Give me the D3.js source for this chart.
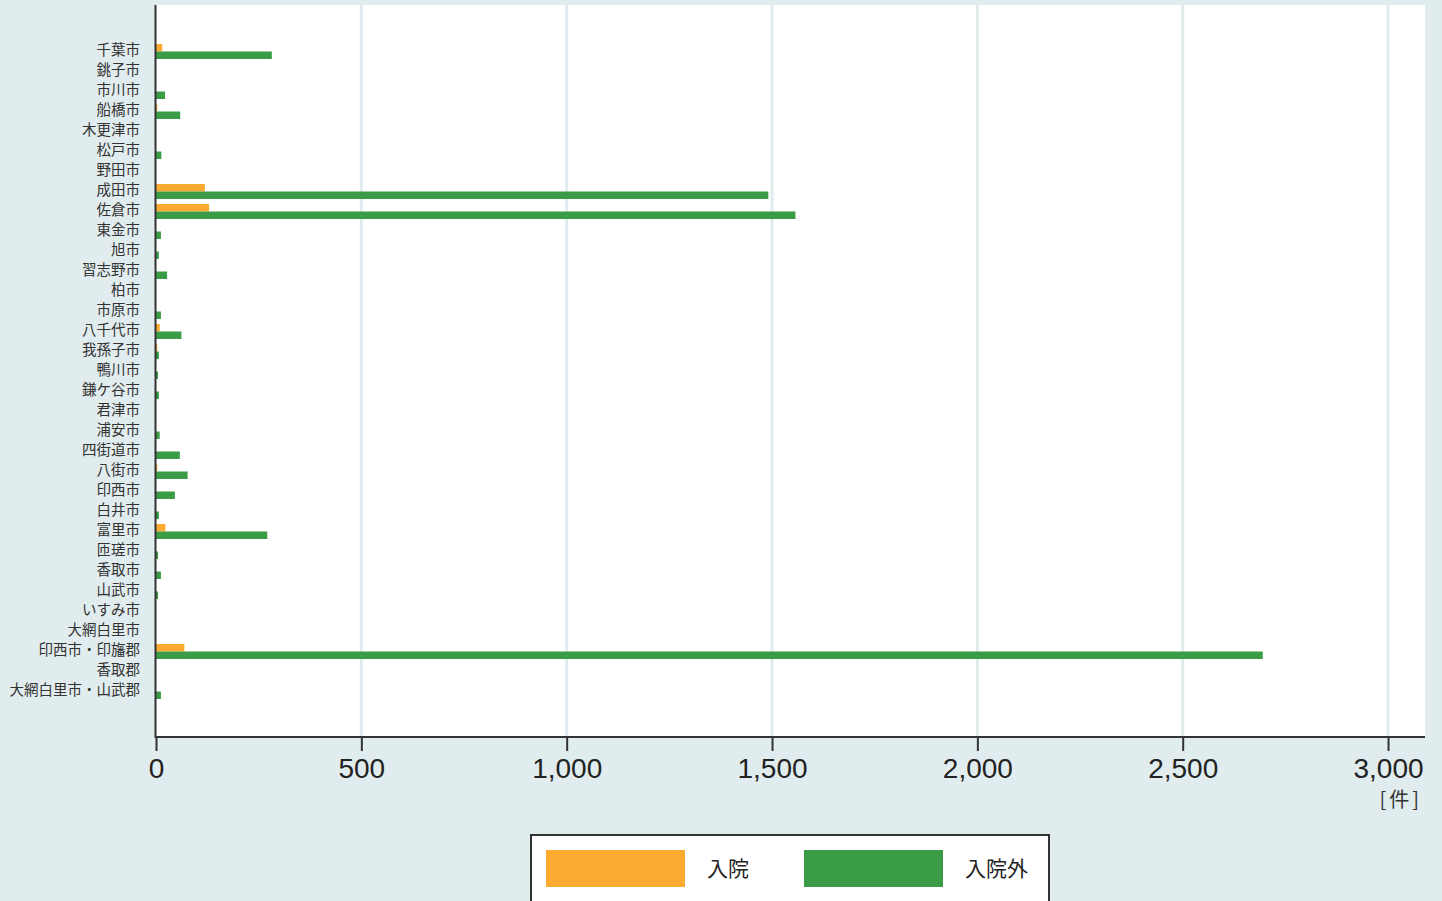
<!DOCTYPE html>
<html><head><meta charset="utf-8">
<script src="https://cdn.jsdelivr.net/npm/d3@7"></script>
<style>
html,body{margin:0;padding:0;background:#e1ecee;}
svg{display:block;}
</style></head>
<body>
<script>
const categories = ["千葉市","銚子市","市川市","船橋市","木更津市","松戸市","野田市","成田市","佐倉市","東金市","旭市","習志野市","柏市","市原市","八千代市","我孫子市","鴨川市","鎌ケ谷市","君津市","浦安市","四街道市","八街市","印西市","白井市","富里市","匝瑳市","香取市","山武市","いすみ市","大網白里市","印西市・印旛郡","香取郡","大網白里市・山武郡"];
const inpatient = [15,0,0,3,0,0,0,119,129,0,0,0,0,0,9,3,0,0,0,0,0,3,0,0,23,0,0,0,0,0,69,0,0];
const outpatient = [282,0,22,59,0,13,0,1491,1557,12,7,27,0,12,62,7,5,7,0,9,58,77,46,7,271,5,12,5,0,0,2695,0,12];
const seriesNames = ["入院","入院外"];
const seriesColors = ["#fbab2f","#3a9c47"];
const xTicks = [0,500,1000,1500,2000,2500,3000];
const unitLabel = "[件]";

const W = 1442, H = 901;
const plot = {left:156, right:1425, top:5, bottom:737};
const svg = d3.select("body").append("svg").attr("width",W).attr("height",H);
svg.append("rect").attr("width",W).attr("height",H).attr("fill","#e1ecee");
svg.append("rect").attr("x",plot.left).attr("y",plot.top).attr("width",plot.right-plot.left).attr("height",plot.bottom-plot.top).attr("fill","#ffffff");

const x = d3.scaleLinear().domain([0,3090]).range([plot.left, plot.right]);
const y = d3.scaleBand().domain(categories).range([41.5,701.5]).paddingInner(0.25).paddingOuter(0.125);
const ySub = d3.scaleBand().domain(seriesNames).range([0,y.bandwidth()]);

// gridlines
svg.append("g").selectAll("line").data(xTicks.filter(d=>d>0)).join("line")
  .attr("x1",d=>x(d)).attr("x2",d=>x(d)).attr("y1",plot.top).attr("y2",plot.bottom)
  .attr("stroke","#e0ebed").attr("stroke-width",3);

const data = categories.map((c,i)=>({cat:c, vals:[inpatient[i], outpatient[i]]}));
const g = svg.append("g");
data.forEach(d=>{
  d.vals.forEach((v,si)=>{
    if(v<=0) return;
    g.append("rect")
      .attr("x",x(0)).attr("y",y(d.cat)+ySub(seriesNames[si]))
      .attr("width",x(v)-x(0)).attr("height",ySub.bandwidth())
      .attr("fill",seriesColors[si]);
  });
});

// category labels
svg.append("g").selectAll("text").data(categories).join("text")
  .attr("x",140).attr("y",d=>y(d)+y.bandwidth()/2 - 1.5).attr("dy","0.36em")
  .attr("text-anchor","end").attr("font-family","'Noto Sans CJK JP', sans-serif")
  .attr("font-size",14.5).attr("fill","#333").text(d=>d);

// left axis line
svg.append("line").attr("x1",155.5).attr("x2",155.5).attr("y1",plot.top).attr("y2",plot.bottom+1)
  .attr("stroke","#333").attr("stroke-width",2);

// bottom axis
const xAxis = d3.axisBottom(x).tickValues(xTicks).tickSize(14).tickPadding(7).tickFormat(d3.format(","));
const ax = svg.append("g").attr("transform",`translate(0,${plot.bottom})`).call(xAxis);
ax.select(".domain").attr("stroke","#333").attr("stroke-width",2).attr("d",`M${plot.left-1},0H${plot.right}`);
ax.selectAll(".tick line").attr("stroke","#333").attr("stroke-width",2);
ax.selectAll(".tick text").attr("font-family","'Liberation Sans', Arial, sans-serif").attr("font-size",28).attr("fill","#222");

svg.append("text").attr("x",1422).attr("y",807).attr("text-anchor","end")
  .attr("font-family","'Noto Sans CJK JP', sans-serif").attr("font-size",20).attr("letter-spacing",3)
  .attr("fill","#333").text(unitLabel);

// legend
const lg = svg.append("g");
lg.append("rect").attr("x",531).attr("y",835).attr("width",518).attr("height",80)
  .attr("fill","#fff").attr("stroke","#333").attr("stroke-width",2);
const legX = [546, 804];
seriesNames.forEach((s,i)=>{
  lg.append("rect").attr("x",legX[i]).attr("y",850).attr("width",139).attr("height",37).attr("fill",seriesColors[i]);
  lg.append("text").attr("x",legX[i]+161).attr("y",868).attr("dy","0.36em")
    .attr("font-family","'Noto Sans CJK JP', sans-serif").attr("font-size",21).attr("fill","#222").text(s);
});
</script>
</body></html>
